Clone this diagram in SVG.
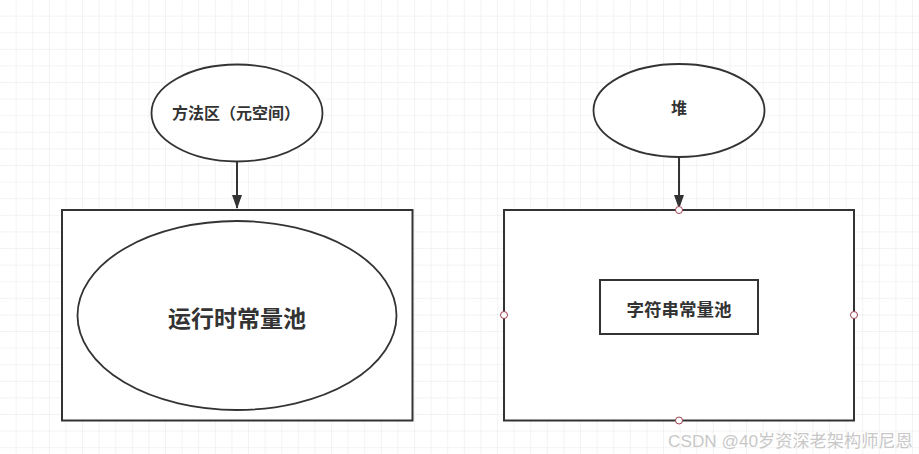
<svg xmlns="http://www.w3.org/2000/svg" width="919" height="454" viewBox="0 0 919 454">
<defs>
<pattern id="grid" x="0" y="0" width="16.6" height="16.6" patternUnits="userSpaceOnUse">
<path d="M16.6 0V16.6M0 16.6H16.6" fill="none" stroke="#e8e8e8" stroke-width="1"/>
</pattern>
<marker id="arr" viewBox="0 0 14 10" refX="13" refY="5" markerWidth="14" markerHeight="10" markerUnits="userSpaceOnUse" orient="auto">
<path d="M0 0L14 5L0 10Z" fill="#333"/>
</marker>
<style>
.shape{fill:#fff;stroke:#333;stroke-width:2}
.ell{fill:#fff;stroke:#333;stroke-width:1.8}
.t{font-family:"Noto Sans CJK SC","Noto Sans",sans-serif;font-weight:bold;fill:#333;text-anchor:middle;dominant-baseline:central}
.pt{fill:#fff;stroke:#a04050;stroke-width:1}
.edge{stroke:#333;stroke-width:2;fill:none}
</style>
</defs>
<rect width="919" height="454" fill="#fff"/>
<rect width="919" height="454" fill="url(#grid)"/>
<g id="connectors">
<path class="edge" d="M237 162V208" marker-end="url(#arr)"/>
<path class="edge" d="M679 157V208" marker-end="url(#arr)"/>
</g>
<g id="method-area">
<ellipse class="ell" cx="237" cy="113" rx="85.5" ry="48.5"/>
<text class="t" x="236" y="112" font-size="16">方法区（元空间）</text>
</g>
<g id="runtime-box">
<rect class="shape" x="62" y="210" width="350.5" height="210.5"/>
</g>
<g id="runtime-pool">
<ellipse class="ell" cx="237" cy="315.5" rx="159.5" ry="94.5"/>
<text class="t" x="237" y="317" font-size="23">运行时常量池</text>
</g>
<g id="heap">
<ellipse class="ell" cx="679" cy="110.5" rx="85.5" ry="46.5"/>
<text class="t" x="679" y="107" font-size="16">堆</text>
</g>
<g id="heap-box">
<rect class="shape" x="504" y="210" width="350" height="210.5"/>
<circle class="pt" cx="679" cy="210" r="3.5"/>
<circle class="pt" cx="504" cy="315" r="3.5"/>
<circle class="pt" cx="854" cy="315" r="3.5"/>
<circle class="pt" cx="679" cy="420.5" r="3.5"/>
</g>
<g id="string-pool">
<rect class="shape" x="600" y="280" width="158" height="54"/>
<text class="t" x="679" y="308" font-size="17.5">字符串常量池</text>
</g>
<text x="668" y="447" font-family="'Liberation Sans','Noto Sans CJK SC',sans-serif" font-size="17.2" fill="#c8c8c8">CSDN @40岁资深老架构师尼恩</text>
</svg>
